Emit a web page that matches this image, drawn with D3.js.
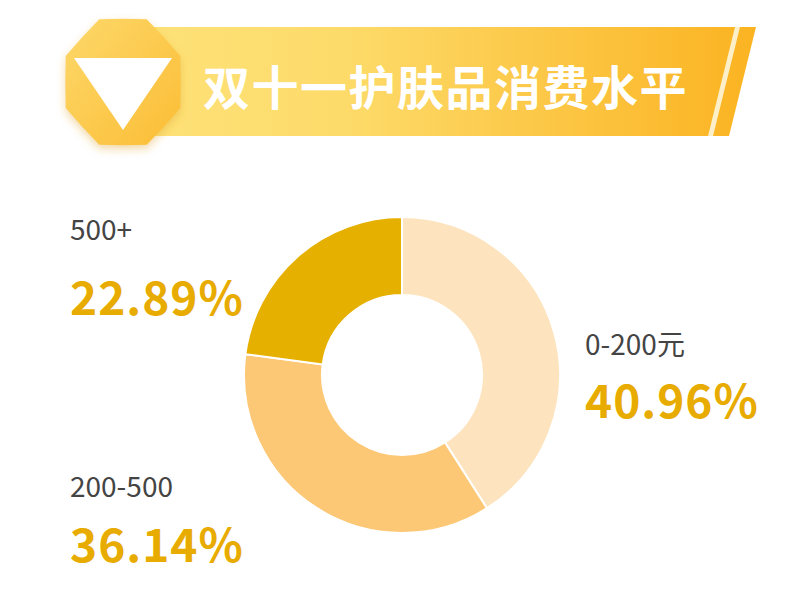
<!DOCTYPE html>
<html><head><meta charset="utf-8">
<script src="https://cdn.jsdelivr.net/npm/d3@7"></script>
<style>body{margin:0;background:#fff}</style>
</head><body>
<script>
const categories = ['0-200元', '200-500', '500+'];
const values = [40.96, 36.14, 22.89];
const labels = ['40.96%', '36.14%', '22.89%'];
const title = '双十一护肤品消费水平';

const colours = ['#fde4bf', '#fdc876', '#e6b000'];
const labelPos = [[585, 355, 418], [70, 497, 562], [70, 240, 315]];

const svg = d3.select('body').append('svg')
  .attr('width', 800).attr('height', 591)
  .style('font-family', '"Noto Sans CJK SC", sans-serif');

const defs = svg.append('defs');
const grad = defs.append('linearGradient').attr('id', 'bar');
grad.append('stop').attr('offset', '0%').attr('stop-color', '#fde27a');
grad.append('stop').attr('offset', '35%').attr('stop-color', '#fddb6a');
grad.append('stop').attr('offset', '100%').attr('stop-color', '#fbb321');
const g2 = defs.append('linearGradient').attr('id', 'badge').attr('x1', 0).attr('x2', 1).attr('y1', 0).attr('y2', 1);
g2.append('stop').attr('offset', '0%').attr('stop-color', '#fdd86a');
g2.append('stop').attr('offset', '100%').attr('stop-color', '#fbbd35');
const sh = defs.append('filter').attr('id', 'sh').attr('x', '-20%').attr('y', '-20%').attr('width', '140%').attr('height', '150%');
sh.append('feDropShadow').attr('dx', 0).attr('dy', 4).attr('stdDeviation', 4).attr('flood-color', '#e0a020').attr('flood-opacity', 0.4);

// header banner
svg.append('path').attr('d', 'M120,27 L756,27 L729,136 L120,136 Z').attr('fill', 'url(#bar)');
svg.append('path').attr('d', 'M735,27 L740,27 L713,136 L708,136 Z').attr('fill', '#fdf0c8');

// badge
const badge = d3.range(16).map(i => {
  const a = i * Math.PI / 8;
  const r = i % 2 ? 1 : 0.93;
  return [123 + 62 * r * Math.sin(a), 82 - 68 * r * Math.cos(a)];
});
svg.append('path').attr('d', d3.line().curve(d3.curveLinearClosed)(badge))
  .attr('fill', 'url(#badge)').attr('filter', 'url(#sh)');
svg.append('path').attr('d', 'M74,58 L172,58 L123,130 Z').attr('fill', '#fff');

svg.append('text').attr('x', 203).attr('y', 105)
  .attr('fill', '#fff').attr('font-size', 47).attr('font-weight', 700)
  .attr('letter-spacing', 1.5).text(title);

// donut
const pie = d3.pie().sort(null).value(d => d);
const arc = d3.arc().innerRadius(80).outerRadius(158);
svg.append('g').attr('transform', 'translate(402,375)')
  .selectAll('path').data(pie(values)).enter().append('path')
  .attr('d', arc).attr('fill', (d, i) => colours[i])
  .attr('stroke', '#fff').attr('stroke-width', 2);

// labels
categories.forEach((c, i) => {
  const [x, y1, y2] = labelPos[i];
  svg.append('text').attr('x', x).attr('y', y1).attr('fill', '#444')
    .attr('font-size', 28).text(c);
  svg.append('text').attr('x', x).attr('y', y2).attr('fill', '#e8ab00')
    .attr('font-size', 46).attr('font-weight', 700).attr('letter-spacing', 1).text(labels[i]);
});
</script>
</body></html>
